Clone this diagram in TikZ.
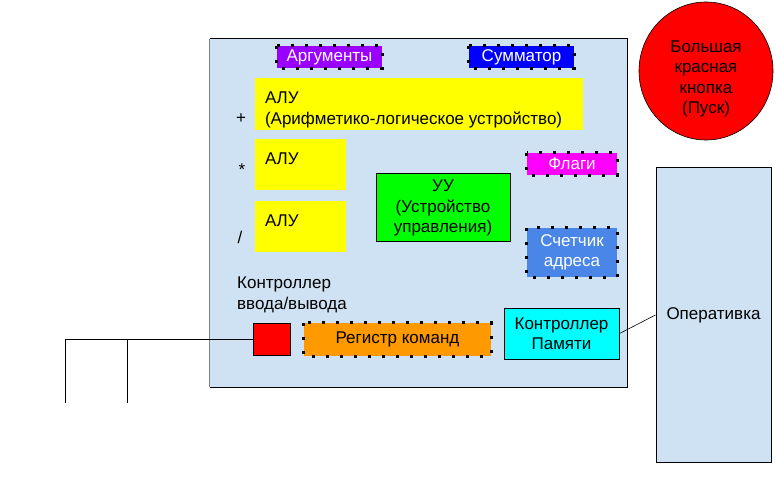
\documentclass[tikz,border=0pt]{standalone}
\usepackage{fontspec}
\usetikzlibrary{shapes.geometric}
\setmainfont{Liberation Sans}
\definecolor{cpanel}{HTML}{CFE2F3}
\definecolor{cpurple}{HTML}{9900FF}
\definecolor{cblue}{HTML}{0000FF}
\definecolor{cmag}{HTML}{FF00FF}
\definecolor{cpc}{HTML}{4A86E8}
\definecolor{corange}{HTML}{FF9900}
\definecolor{cgreen}{HTML}{00FF00}
\definecolor{ccyan}{HTML}{00FFFF}
\definecolor{cyel}{HTML}{FFFF00}
\definecolor{cred}{HTML}{FF0000}
\tikzset{
  every node/.style={font=\fontsize{17}{20.5}\selectfont},
  plainbox/.style={rectangle, inner sep=0pt, draw=black, line width=1pt},
  flatbox/.style={rectangle, inner sep=0pt},
  dotbox/.style={rectangle, inner sep=0pt, text=white},
  dotborder/.style={draw=black, line width=3pt, dash pattern=on 3pt off 11pt},
  lbl/.style={inner sep=0pt, anchor=west, align=left},
  wire/.style={draw=black, line width=1pt},
}
\begin{document}
\begin{tikzpicture}[x=1pt,y=-1pt]
\useasboundingbox (0,0) rectangle (776,478);
% main panel
\node[flatbox, fill=cpanel, minimum width=417pt, minimum height=348pt] (panel) at (418.5,213) {};
\draw[line width=1pt] (panel.south west) -- (panel.south east) -- (panel.north east) -- (panel.north west);
\draw[line width=1pt, gray] (panel.north west) -- (panel.south west);

% dotted boxes
\node[dotbox, fill=cpurple, minimum width=105pt, minimum height=22pt] (arg) at (329.5,57) {Аргументы};
\draw[dotborder] (arg.north west) rectangle (arg.south east);
\node[dotbox, fill=cblue, minimum width=105pt, minimum height=22pt] (sum) at (521.5,57) {Сумматор};
\draw[dotborder] (sum.north west) rectangle (sum.south east);
\node[dotbox, fill=cmag, minimum width=90pt, minimum height=22pt] (flags) at (572,164) {Флаги};
\draw[dotborder] (flags.north west) rectangle (flags.south east);
\node[dotbox, fill=cpc, minimum width=90pt, minimum height=49pt, align=center] (pc) at (572,252.5) {Счетчик\\адреса};
\draw[dotborder] (pc.north west) rectangle (pc.south east);
\node[dotbox, text=black, fill=corange, minimum width=187pt, minimum height=33pt] (ir) at (397.5,339.5) {Регистр команд};
\draw[dotborder] (ir.north west) rectangle (ir.south east);

% ALUs
\node[flatbox, fill=cyel, minimum width=328pt, minimum height=52pt] (alu1) at (419,104) {};
\node[lbl, anchor=north west] at ([shift={(10,14)}]alu1.north west) {АЛУ\\(Арифметико-логическое устройство)};
\node[flatbox, fill=cyel, minimum width=91pt, minimum height=51pt] (alu2) at (300.5,164.5) {};
\node[lbl, anchor=north west] at ([shift={(10,14)}]alu2.north west) {АЛУ};
\node[flatbox, fill=cyel, minimum width=91pt, minimum height=51pt] (alu3) at (300.5,226.5) {};
\node[lbl, anchor=north west] at ([shift={(10,14)}]alu3.north west) {АЛУ};
\node[inner sep=0pt] (plus) at (241,119) {+};
\node[inner sep=0pt] (mul) at (242,170) {*};
\node[inner sep=0pt] (divs) at (240,237) {/};

% control unit
\node[plainbox, fill=cgreen, minimum width=134pt, minimum height=68pt, align=center] (cu) at (443,208) {УУ\\(Устройство\\управления)};

% IO controller
\node[lbl, anchor=north west] (iolbl) at (237,277) {Контроллер\\ввода/вывода};
\node[plainbox, fill=cred, minimum width=37pt, minimum height=32pt] (io) at (271.5,339) {};

% memory controller
\node[plainbox, fill=ccyan, minimum width=115pt, minimum height=51pt, align=center] (mc) at (561.5,333.5) {Контроллер\\Памяти};

% RAM
\node[plainbox, fill=cpanel, minimum width=115pt, minimum height=294pt, align=center] (ram) at (713.5,315) {Оперативка};

% big red button
\node[ellipse, draw=black, line width=0.6pt, fill=cred, minimum width=134pt, minimum height=138pt, inner sep=0pt] (btn) at (706,71) {};
\node[inner sep=0pt, align=center] (btntext) at ([yshift=-8pt]btn.center) {Большая\\красная\\кнопка\\(Пуск)};

% wires
\coordinate (b1) at (65,339);
\coordinate (b2) at (127,339);
\coordinate (e1) at (65,403);
\coordinate (e2) at (127,403);
\draw[wire] (io.west) -- (b1) -- (e1);
\draw[wire] (b2) -- (e2);
\draw[line width=0.6pt] (mc.east) -- (ram.west);
\end{tikzpicture}
\end{document}
